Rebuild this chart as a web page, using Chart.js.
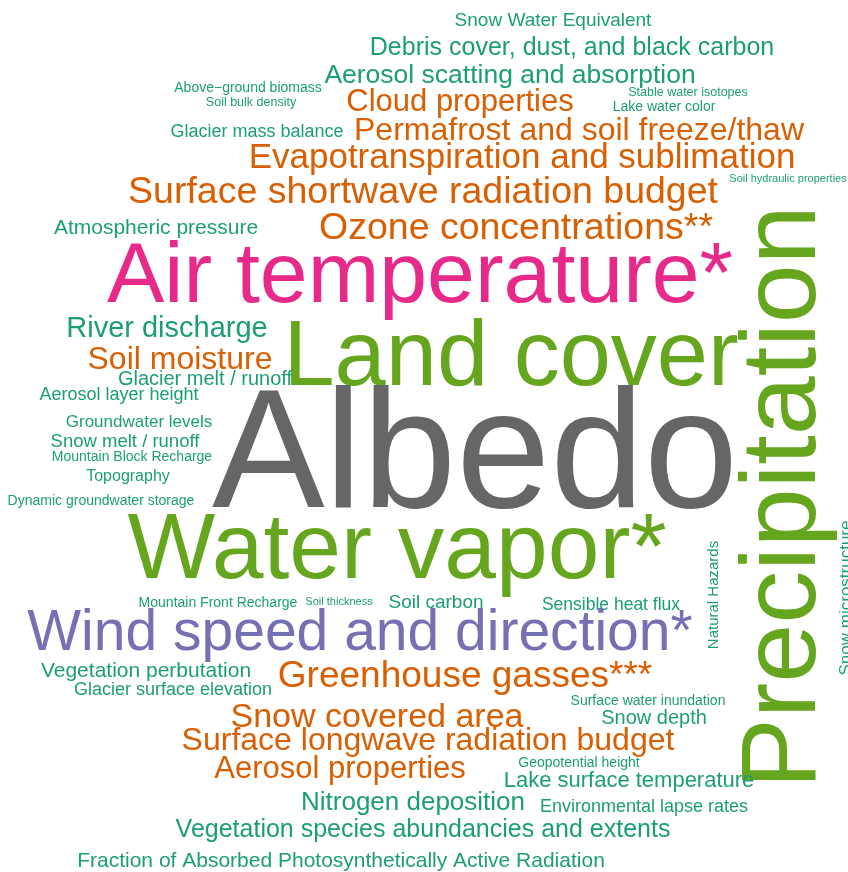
<!DOCTYPE html>
<html>
<head>
<meta charset="utf-8">
<script src="https://cdn.jsdelivr.net/npm/chart.js@4.4.1/dist/chart.umd.min.js"></script>
<style>
  html, body { margin: 0; padding: 0; background: #fff; }
  #wrap { width: 848px; height: 872px; position: relative; }
</style>
</head>
<body>
<div id="wrap"><canvas id="nube"></canvas></div>
<script>
// variables (words) and their weight (font size in the cloud)
const palabras = [
  'Snow Water Equivalent', 'Debris cover, dust, and black carbon', 'Aerosol scatting and absorption',
  'Above\u2212ground biomass', 'Soil bulk density', 'Cloud properties', 'Stable water isotopes',
  'Lake water color', 'Glacier mass balance', 'Permafrost and soil freeze/thaw',
  'Evapotranspiration and sublimation', 'Surface shortwave radiation budget', 'Soil hydraulic properties',
  'Atmospheric pressure', 'Ozone concentrations**', 'Air temperature*', 'River discharge',
  'Land cover', 'Soil moisture', 'Glacier melt / runoff', 'Aerosol layer height',
  'Groundwater levels', 'Snow melt / runoff', 'Mountain Block Recharge', 'Topography',
  'Dynamic groundwater storage', 'Albedo', 'Water vapor*', 'Precipitation', 'Natural Hazards',
  'Snow microstructure', 'Mountain Front Recharge', 'Soil thickness', 'Soil carbon',
  'Sensible heat flux', 'Wind speed and direction*', 'Vegetation perbutation', 'Greenhouse gasses***',
  'Glacier surface elevation', 'Surface water inundation', 'Snow covered area', 'Snow depth',
  'Surface longwave radiation budget', 'Geopotential height', 'Aerosol properties',
  'Lake surface temperature', 'Nitrogen deposition', 'Environmental lapse rates',
  'Vegetation species abundancies and extents', 'Fraction of Absorbed Photosynthetically Active Radiation'
];
const pesos = [
  19, 25, 26.5, 14, 12.5, 31, 12.5, 14, 18, 32,
  35, 37.5, 11, 21, 37.5, 86, 29, 92, 32, 20,
  18, 17, 18.5, 14, 16, 14, 169, 93, 106, 15,
  17, 14, 11, 19, 17.5, 57, 21, 37, 18, 14,
  34, 20, 32, 14, 31, 22, 26, 18, 25, 21
];
// group of each word (0 teal, 1 orange, 2 purple, 3 pink, 4 green, 5 gray)
const grupos = [
  0, 0, 0, 0, 0, 1, 0, 0, 0, 1,
  1, 1, 0, 0, 1, 3, 0, 4, 1, 0,
  0, 0, 0, 0, 0, 0, 5, 4, 4, 0,
  0, 0, 0, 0, 0, 2, 0, 1, 0, 0,
  1, 0, 1, 0, 1, 0, 0, 0, 0, 0
];
// layout coordinates: centre along the word, and its baseline
const posX = [
  553, 572, 510, 248, 251, 460, 688, 664, 257, 579,
  522, 423, 788, 156, 516, 420, 167, 511, 180, 205,
  119, 139, 125, 132, 128, 101, 475, 397, 815, 718,
  851, 218, 339, 436, 611, 360, 146, 465, 173, 648,
  377, 654, 428, 579, 340, 629, 413, 644, 423, 341
];
const posY = [
  26, 55, 83, 92, 106, 111, 96, 111, 137, 140,
  168, 203, 182, 234, 239, 302, 337, 385, 369, 385,
  400, 427, 447, 461, 481, 505, 507, 578, 497, 595,
  598, 607, 605, 608, 610, 650, 677, 687, 695, 705,
  727, 724, 750, 767, 778, 787, 810, 812, 837, 867
];
const verticales = ['Precipitation', 'Natural Hazards', 'Snow microstructure'];

const colores = ['#1B9E77', '#D95F02', '#7570B3', '#E7298A', '#66A61E', '#666666'];

const dibujarPalabras = {
  id: 'dibujarPalabras',
  afterDatasetsDraw(chart) {
    const ctx = chart.ctx;
    const meta = chart.getDatasetMeta(0);
    meta.data.forEach((pt, i) => {
      ctx.save();
      ctx.translate(pt.x, pt.y);
      if (verticales.includes(palabras[i])) ctx.rotate(-Math.PI / 2);
      ctx.font = `${pesos[i]}px "Liberation Sans", Arial, sans-serif`;
      ctx.fillStyle = colores[grupos[i]];
      ctx.textAlign = 'center';
      ctx.textBaseline = 'alphabetic';
      ctx.fillText(palabras[i], 0, 0);
      ctx.restore();
    });
  }
};

new Chart(document.getElementById('nube').getContext('2d'), {
  type: 'scatter',
  data: {
    datasets: [{
      label: 'Variables',
      data: palabras.map((p, i) => ({ x: posX[i], y: posY[i] })),
      pointRadius: 0,
      pointHoverRadius: 0
    }]
  },
  options: {
    responsive: true,
    maintainAspectRatio: false,
    animation: false,
    layout: { padding: 0 },
    plugins: { legend: { display: false }, tooltip: { enabled: false } },
    scales: {
      x: { type: 'linear', min: 0, max: 848, display: false },
      y: { type: 'linear', min: 0, max: 872, reverse: true, display: false }
    }
  },
  plugins: [dibujarPalabras]
});
</script>
</body>
</html>
